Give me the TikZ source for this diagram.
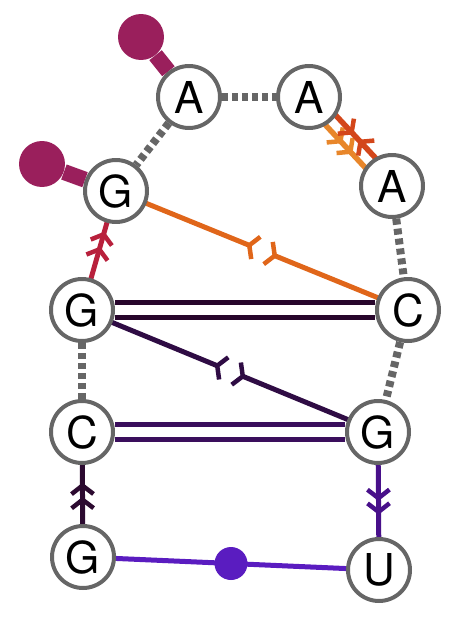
\documentclass[tikz,border=0pt]{standalone}
\usepackage{fontspec}
\setmainfont{TeX Gyre Heros}
\usetikzlibrary{arrows.meta,decorations.markings}
\pgfdeclarelayer{back}
\pgfsetlayers{back,main}
\definecolor{rimgrey}{HTML}{666666}
\definecolor{capmag}{HTML}{9A1F5C}
\definecolor{crim}{HTML}{B8203C}
\definecolor{rust}{HTML}{D3461A}
\definecolor{amber}{HTML}{E8862A}
\definecolor{pumpkin}{HTML}{E0661A}
\definecolor{inkplum}{HTML}{28062C}
\definecolor{plum}{HTML}{2F0C44}
\definecolor{grape}{HTML}{3A0E5C}
\definecolor{iris}{HTML}{48108A}
\definecolor{darkplum}{HTML}{2C0A30}
\definecolor{violet}{HTML}{5A1CC0}
\tikzset{
  nt/.style={circle,draw=rimgrey,line width=0.08cm,fill=white,minimum size=1.24cm,inner sep=0pt,font=\fontsize{25}{25}\selectfont},
  endball/.style={circle,fill=capmag,minimum size=0.92cm,inner sep=0pt},
  midball/.style={circle,fill=violet,minimum size=0.66cm,inner sep=0pt},
  bb/.style={rimgrey,line width=0.16cm,dash pattern=on 0.12cm off 0.08cm},
  stick/.style={capmag,line width=0.32cm},
  bond/.style={line width=0.1cm,shorten <=-2pt,shorten >=-2pt},
  pair/.style={line width=0.1cm,double=white,double distance=0.2cm},
  chev/.tip={Straight Barb[length=0.17cm,width=0.44cm,line width=0.09cm]},
  fork/.tip={Straight Barb[reversed,length=0.14cm,width=0.48cm,line width=0.09cm]},
  chevs/.style 2 args={postaction={decorate},decoration={markings,
    mark=at position #1 with {\arrow{chev}},mark=at position #2 with {\arrow{chev}}}},
  chevmeet/.style 2 args={postaction={decorate},decoration={markings,
    mark=at position #1 with {\arrow{chev}},mark=at position #2 with {\arrowreversed{chev}}}},
}
\begin{document}
\begin{tikzpicture}[x=0.02cm,y=-0.02cm]
\useasboundingbox (0,0) rectangle (462,622);
\node[nt] (A1) at (189,97) {A};
\node[nt] (A2) at (309,97) {A};
\node[nt] (A3) at (392,186) {A};
\node[nt] (G1) at (116,191) {G};
\node[nt] (G2) at (82,310) {G};
\node[nt] (C1) at (408,310) {C};
\node[nt] (C2) at (82,432) {C};
\node[nt] (G3) at (378,432) {G};
\node[nt] (G4) at (83,557) {G};
\node[nt] (U) at (379,570) {U};
\node[endball] (capA) at (141,37) {};
\node[endball] (capG) at (42,164) {};
\begin{pgfonlayer}{back}
\draw[bb] (A1) -- (A2);
\draw[bb] (A1) -- (G1);
\draw[bb] (A3) -- (C1);
\draw[bb] (G2) -- (C2);
\draw[bb] (C1) -- (G3);
\draw[stick] (capA) -- (A1);
\draw[stick] (capG) -- (G1);
\draw[bond,amber,line width=0.11cm,transform canvas={shift={(-0.1cm,-0.1cm)}},chevs={0.42}{0.68}] (A2) -- (A3);
\draw[bond,rust,line width=0.11cm,transform canvas={shift={(0.1cm,0.1cm)}},chevmeet={0.45}{0.58}] (A2) -- (A3);
\draw[bond,crim,chevs={0.57}{0.84}] (G2) -- (G1);
\path (G1) -- (C1) coordinate[pos=0.482] (gapG) coordinate[pos=0.518] (gapC);
\draw[bond,pumpkin,shorten >=0pt,-{fork}] (G1) -- (gapG);
\draw[bond,pumpkin,shorten >=0pt,-{fork}] (C1) -- (gapC);
\draw[pair,inkplum] (G2) -- (C1);
\path (G2) -- (G3) coordinate[pos=0.482] (gapL) coordinate[pos=0.518] (gapR);
\draw[bond,plum,shorten >=0pt,-{fork}] (G2) -- (gapL);
\draw[bond,plum,shorten >=0pt,-{fork}] (G3) -- (gapR);
\draw[pair,grape] (C2) -- (G3);
\draw[bond,darkplum,chevs={0.46}{0.70}] (G4) -- (C2);
\draw[bond,iris,chevs={0.50}{0.69}] (G3) -- (U);
\draw[bond,violet] (G4) -- node[midball] (hinge) {} (U);
\end{pgfonlayer}
\end{tikzpicture}
\end{document}
